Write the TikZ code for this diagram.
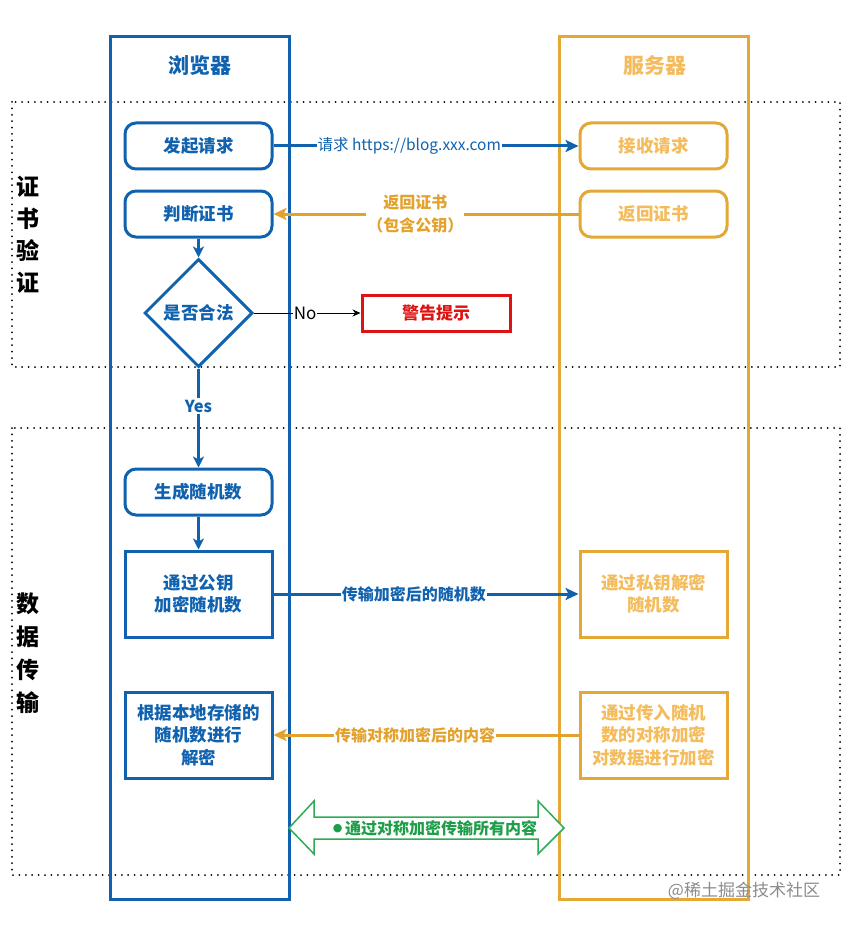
\documentclass[tikz,border=0pt]{standalone}
\usepackage{fontspec}
\setmainfont{Noto Sans CJK SC}
\newfontfamily\symfont{DejaVu Sans}
\usetikzlibrary{arrows.meta,shapes.geometric}
\definecolor{blueC}{RGB}{16,98,175}
\definecolor{orangeC}{RGB}{228,168,52}
\definecolor{orangeT}{RGB}{244,188,92}
\definecolor{orangeL}{RGB}{226,162,45}
\definecolor{redC}{RGB}{222,20,20}
\definecolor{greenC}{RGB}{45,172,85}
\definecolor{greenT}{RGB}{30,158,72}
\tikzset{
  lane/.style={line width=3},
  dotbox/.style={line width=2, dash pattern=on 0pt off 6.4pt, line cap=round},
  bnode/.style={draw=blueC, line width=3, text=blueC, font=\bfseries\fontsize{17.5}{22.5}\selectfont, minimum width=147, minimum height=46, align=center, inner sep=1},
  onode/.style={bnode, draw=orangeC, text=orangeT},
  rnd/.style={rounded corners=11},
  tall/.style={minimum height=86},
  side/.style={font=\bfseries\fontsize{23}{23}\selectfont, text=black},
  conn/.style={line width=3, -{Stealth[length=13,width=12,inset=3]}},
  lbl/.style={fill=white, inner sep=1, font=\bfseries\fontsize{16}{23}\selectfont, align=center},
}
\begin{document}
\begin{tikzpicture}[x=1pt,y=-1pt]
\useasboundingbox[fill=white] (0,0) rectangle (847,928);
% dotted boxes
\draw[dotbox] (12,102) rectangle (840,367);
\draw[dotbox] (12,428) rectangle (840,875);
% lanes
\draw[lane, draw=blueC] (110,37) rectangle (289,899);
\draw[lane, draw=orangeC] (559,37) rectangle (748,899);
\node[text=blueC, font=\bfseries\fontsize{21}{21}\selectfont] (tb) at (200,66) {浏览器};
\node[text=orangeT, font=\bfseries\fontsize{21}{21}\selectfont] (ts) at (655,66) {服务器};
% side labels
\node[side] (s1) at (28,187) {证};
\node[side] (s2) at (28,219) {书};
\node[side] (s3) at (28,251) {验};
\node[side] (s4) at (28,283) {证};
\node[side] (d1) at (28,604) {数};
\node[side] (d2) at (28,637) {据};
\node[side] (d3) at (28,670) {传};
\node[side] (d4) at (28,703) {输};
% browser nodes
\node[bnode, rnd] (req) at (198.5,146) {发起请求};
\node[bnode, rnd] (judge) at (198.5,214) {判断证书};
\node[draw=blueC, line width=3, diamond, minimum width=108, minimum height=108, inner sep=0, text=blueC, font=\bfseries\fontsize{17.5}{20}\selectfont] (legal) at (198.5,313) {是否合法};
\node[draw=redC, line width=3, minimum width=148, minimum height=36, text=redC, font=\bfseries\fontsize{17}{20}\selectfont] (warn) at (436,313) {警告提示};
\node[bnode, rnd] (gen) at (198.5,492) {生成随机数};
\node[bnode, tall] (enc) at (198.5,594) {通过公钥\\加密随机数};
\node[bnode, tall] (dec) at (198.5,735) {根据本地存储的\\随机数进行\\解密};
% server nodes
\node[onode, rnd] (recv) at (653.5,146) {接收请求};
\node[onode, rnd] (ret) at (653.5,214) {返回证书};
\node[onode, tall] (pdec) at (653.5,594) {通过私钥解密\\随机数};
\node[onode, tall] (senc) at (653.5,735) {通过传入随机\\数的对称加密\\对数据进行加密};
% connectors
\draw[conn, draw=blueC, fill=blueC] (req) -- node[lbl, pos=0.445, text=blueC, font=\fontsize{15.5}{18}\selectfont] {请求 https://blog.xxx.com} (recv);
\draw[conn, draw=orangeL, fill=orangeL] (ret) -- node[lbl, pos=0.535, text=orangeL] {返回证书\\（包含公钥）} (judge);
\draw[line width=3, draw=blueC, -{Stealth[length=11,width=11,inset=3]}] (judge) -- (legal);
\draw[line width=1, -{Stealth[length=8,width=7]}] (legal.east) -- node[fill=white, inner sep=1, font=\fontsize{17}{19}\selectfont, pos=0.48] {No} (warn.west);
\draw[line width=3, draw=blueC, -{Stealth[length=11,width=11,inset=3]}] (legal.south) -- node[fill=white, inner sep=2, text=blueC, font=\bfseries\fontsize{16.5}{18}\selectfont, pos=0.38] {Yes} (gen.north);
\draw[line width=3, draw=blueC, -{Stealth[length=11,width=11,inset=3]}] (gen) -- (enc);
\draw[conn, draw=blueC, fill=blueC] (enc) -- node[lbl, pos=0.46, text=blueC] {传输加密后的随机数} (pdec);
\draw[conn, draw=orangeL, fill=orangeL] (senc) -- node[lbl, pos=0.536, text=orangeL] {传输对称加密后的内容} (dec);
% double arrow
\draw[draw=greenC, line width=1.5, fill=white] (289,828) -- (314,801) -- (314,817) -- (538,817) -- (538,801) -- (564,828) -- (538,854) -- (538,839) -- (314,839) -- (314,854) -- cycle;
\node[text=greenT, font=\bfseries\fontsize{16}{18}\selectfont] (sym) at (435,828) {\raisebox{2.5pt}{\symfont\fontsize{11}{11}\selectfont ●}\,通过对称加密传输所有内容};
% watermark
\node[text=black!45, font=\fontsize{17}{19}\selectfont] (wm) at (744,891) {@稀土掘金技术社区};
\end{tikzpicture}
\end{document}
